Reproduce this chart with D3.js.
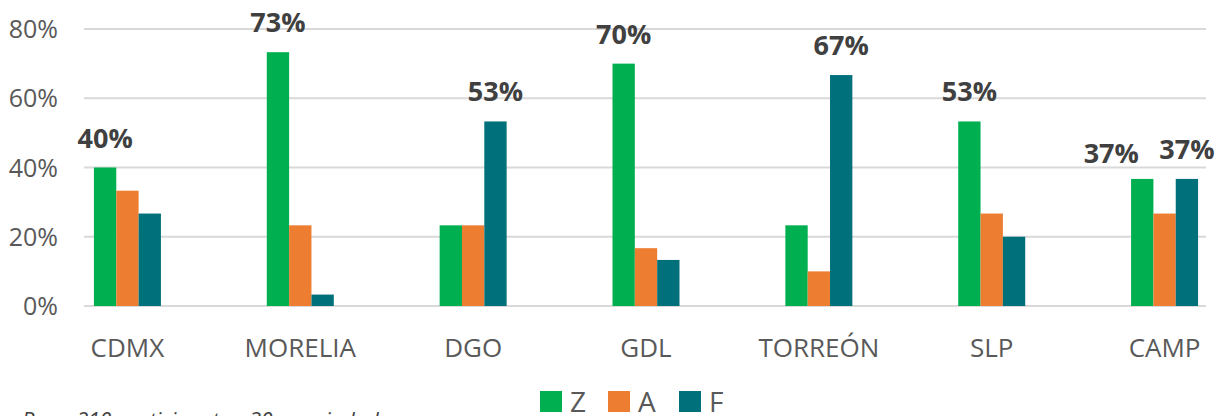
<!DOCTYPE html>
<meta charset="utf-8">
<script src="https://cdn.jsdelivr.net/npm/d3@7"></script>
<style>
body {margin: 0; background: #fff;}
text {font-family: "Open Sans", sans-serif;}
.axis-lbl {fill: #595959; font-size: 25px;}
.xlbl {font-size: 26px;}
.val-lbl {fill: #404040; font-size: 27px; font-weight: bold; text-anchor: middle;}
.grid line {stroke: #d9d9d9; stroke-width: 2;}
.note {fill: #404040; font-size: 21px; font-style: italic;}
</style>
<div id="vis"></div>
<script>

// data: share of each answer per city (30 participants per city)
var cities = ["CDMX", "MORELIA", "DGO", "GDL", "TORREÓN", "SLP", "CAMP"];
var series = ["Z", "A", "F"];
var valZ = [40.0, 73.3, 23.3, 70.0, 23.3, 53.3, 36.7];
var valA = [33.3, 23.3, 23.3, 16.7, 10.0, 26.7, 26.7];
var valF = [26.7, 3.3, 53.3, 13.3, 66.7, 20.0, 36.7];
var yTicks = [0, 20, 40, 60, 80];
var colors = ["#00b050", "#ed7d31", "#00717b"];

var w = 1217, h = 416;
var plot = {left: 84, right: 1206, top: 29, bottom: 306};

var svg = d3.select("#vis").append("svg")
    .attr("width", w)
    .attr("height", h);

var x = d3.scaleBand()
    .domain(cities)
    .range([41, 1251]);

var groupW = 67;
var xs = d3.scaleBand()
    .domain(series)
    .range([0, groupW]);

var y = d3.scaleLinear()
    .domain([0, 80])
    .range([plot.bottom, plot.top]);

// gridlines
svg.append("g")
    .attr("class", "grid")
  .selectAll("line")
  .data(yTicks)
  .enter().append("line")
    .attr("x1", plot.left)
    .attr("x2", plot.right)
    .attr("y1", function(d) { return y(d); })
    .attr("y2", function(d) { return y(d); });

// y labels
svg.selectAll(".ylbl")
  .data(yTicks)
  .enter().append("text")
    .attr("class", "axis-lbl ylbl")
    .attr("x", 58)
    .attr("y", function(d) { return y(d) + 9; })
    .attr("text-anchor", "end")
    .text(function(d) { return d + "%"; });

// x labels
svg.selectAll(".xlbl")
  .data(cities)
  .enter().append("text")
    .attr("class", "axis-lbl xlbl")
    .attr("x", function(d) { return x(d) + x.bandwidth() / 2; })
    .attr("y", 357)
    .attr("text-anchor", "middle")
    .text(function(d) { return d; });

var rows = cities.map(function(c, i) {
  return {city: c, vals: [valZ[i], valA[i], valF[i]]};
});

var groups = svg.selectAll(".grp")
  .data(rows)
  .enter().append("g")
    .attr("class", "grp")
    .attr("transform", function(d) {
      return "translate(" + (x(d.city) + (x.bandwidth() - groupW) / 2) + ",0)";
    });

groups.selectAll("rect")
  .data(function(d) { return d.vals.map(function(v, j) { return {s: series[j], v: v, j: j}; }); })
  .enter().append("rect")
    .attr("x", function(d) { return xs(d.s); })
    .attr("width", xs.bandwidth())
    .attr("y", function(d) { return y(d.v); })
    .attr("height", function(d) { return plot.bottom - y(d.v); })
    .attr("fill", function(d) { return colors[d.j]; });

// labels only on the highest bar(s) of each city
groups.each(function(d) {
  var mx = d3.max(d.vals);
  var top = d.vals.map(function(v, j) { return {v: v, j: j}; })
      .filter(function(e) { return e.v === mx; });
  var g = d3.select(this);
  top.forEach(function(e, k) {
    var tie = top.length > 1 && k === 0;
    g.append("text")
      .attr("class", "val-lbl")
      .attr("x", xs(series[e.j]) + xs.bandwidth() / 2 + (tie ? -31 : 0))
      .attr("y", y(e.v) - (tie ? 16 : 20))
      .text(Math.round(e.v) + "%");
  });
});

// legend
var leg = svg.append("g").attr("transform", "translate(540,391)");
var legX = [0, 68, 139];
series.forEach(function(s, i) {
  leg.append("rect")
    .attr("x", legX[i])
    .attr("y", 0)
    .attr("width", 22)
    .attr("height", 21)
    .attr("fill", colors[i]);
  leg.append("text")
    .attr("class", "axis-lbl")
    .attr("x", legX[i] + 30)
    .attr("y", 21)
    .style("font-size", "28px")
    .text(s);
});

svg.append("text")
  .attr("class", "note")
  .attr("x", 22)
  .attr("y", 428)
  .text("Base: 210 participantes, 30 por ciudad");

</script>
